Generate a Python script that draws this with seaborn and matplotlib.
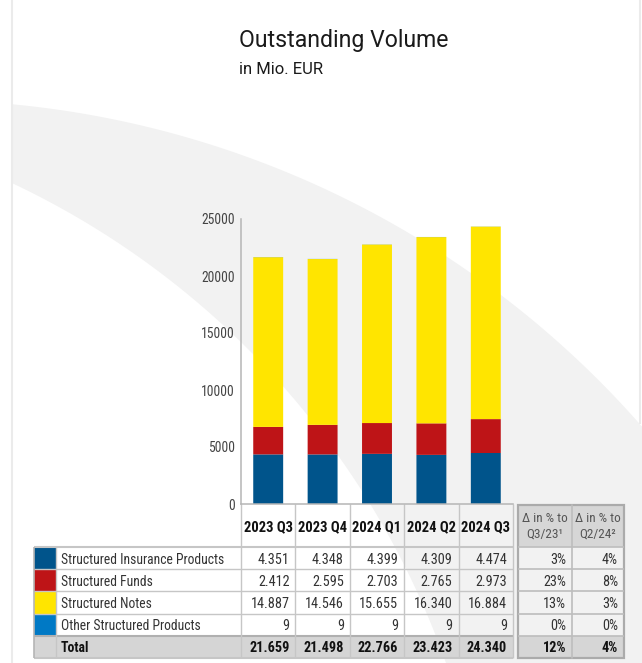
import numpy as np
import pandas as pd
import matplotlib
matplotlib.use("Agg")
import matplotlib.pyplot as plt
from matplotlib import font_manager as fm
from matplotlib.patches import Polygon, Rectangle
import seaborn as sns

# ---------------- data ----------------
quarters = ["2023 Q3", "2023 Q4", "2024 Q1", "2024 Q2", "2024 Q3"]
categories = ["Structured Insurance Products", "Structured Funds",
              "Structured Notes", "Other Structured Products"]
insurance = [4351, 4348, 4399, 4309, 4474]
funds = [2412, 2595, 2703, 2765, 2973]
notes = [14887, 14546, 15655, 16340, 16884]
other = [9, 9, 9, 9, 9]
totals = [21659, 21498, 22766, 23423, 24340]
delta_q3_23 = [3, 23, 13, 0, 12]
delta_q2_24 = [4, 8, 3, 0, 4]
delta_headers = ["\u0394 in % to\nQ3/23\u00b9", "\u0394 in % to\nQ2/24\u00b2"]
y_ticks = [0, 5000, 10000, 15000, 20000, 25000]
colors = ["#00548b", "#be1417", "#ffe500", "#0079c5"]

title = "Outstanding Volume"
subtitle = "in Mio. EUR"

# ---------------- style ----------------
sns.set_theme(style="white")
names = {f.name for f in fm.fontManager.ttflist}
COND = next((n for n in ["Roboto Condensed", "Liberation Sans Narrow", "Arial Narrow"]
             if n in names), None)
if COND is None:
    COND_FAM = ["Roboto", "DejaVu Sans"]
    k = 0.84
else:
    COND_FAM = [COND, "DejaVu Sans"]
    k = 1.0
plt.rcParams["font.family"] = COND_FAM

W, H, DPI = 642, 663, 100
fig = plt.figure(figsize=(W / DPI, H / DPI), dpi=DPI)
fig.patch.set_facecolor("white")

# background / table layer in pixel coordinates
bg = fig.add_axes([0, 0, 1, 1], zorder=0)
bg.set_xlim(0, W)
bg.set_ylim(H, 0)
bg.axis("off")

# decorative swoosh band
def upper(x):
    return 1057 - np.sqrt(957 ** 2 - (x + 78) ** 2)

def lower_x(y):
    return -346 + np.sqrt(840 ** 2 - (943 - y) ** 2)

xs_up = np.linspace(12, W, 200)
ys_up = upper(xs_up)
ys_lo = np.linspace(H, 943 - np.sqrt(840 ** 2 - (12 + 346) ** 2), 200)
xs_lo = lower_x(ys_lo)
poly = np.vstack([np.column_stack([xs_up, ys_up]),
                  [[W, H]],
                  np.column_stack([xs_lo, ys_lo])])
bg.add_patch(Polygon(poly, closed=True, facecolor="#f2f2f2", edgecolor="none"))
bg.plot([12, 12], [0, H], color="#ebebeb", lw=1.5, solid_capstyle="butt")
bg.plot([640, 640], [0, upper(640)], color="#ebebeb", lw=1.5, solid_capstyle="butt")

# title
bg.text(239, 47, title, fontsize=16.6, family=["Roboto", "DejaVu Sans"],
        color="#1a1a1a", va="baseline", ha="left")
bg.text(239, 74, subtitle, fontsize=12, family=["Roboto", "DejaVu Sans"],
        color="#1a1a1a", va="baseline", ha="left")

# ---------------- bar chart ----------------
AX_L, AX_R, AX_T, AX_B = 241, 513, 219, 504
ax = fig.add_axes([AX_L / W, 1 - AX_B / H, (AX_R - AX_L) / W, (AX_B - AX_T) / H],
                  zorder=2)
ax.patch.set_alpha(0)

long = pd.DataFrame({
    "quarter": quarters * len(categories),
    "category": np.repeat(categories, len(quarters)),
    "value": insurance + funds + notes + other,
})
sns.histplot(data=long, x="quarter", weights="value", hue="category",
             hue_order=categories[::-1], multiple="stack", discrete=True,
             shrink=0.55, palette=dict(zip(categories, colors)), alpha=1,
             linewidth=0, snap=False, legend=False, ax=ax)

ax.set_xlim(-0.5, 4.5)
ax.set_ylim(0, 25000)
ax.set_yticks(y_ticks)
ax.set_yticklabels([str(v) for v in y_ticks])
ax.set_xlabel("")
ax.set_ylabel("")
ax.set_xticks(range(len(quarters)))
ax.set_xticklabels(quarters, fontweight="bold", fontsize=10.5 * k, color="#111111")
ax.set_xticks([i - 0.5 for i in range(len(quarters) + 1)], minor=True)
ax.tick_params(axis="x", which="major", length=0, pad=11.5)
ax.tick_params(axis="x", which="minor", direction="in", length=5, width=1.0,
               color="#bdbdbd")
ax.tick_params(axis="y", direction="in", length=4.5, width=1.0, color="#b0b0b0",
               labelsize=9.8 * k, labelcolor="#444444", pad=4.3)
for s in ["top", "right"]:
    ax.spines[s].set_visible(False)
for s in ["left", "bottom"]:
    ax.spines[s].set_color("#b5b5b5")
    ax.spines[s].set_linewidth(1.1)

# ---------------- table ----------------
step = (AX_R - AX_L) / len(quarters)
col_x = [AX_L + i * step for i in range(len(quarters) + 1)]
row_y = [547 + i * 22.2 for i in range(6)]
SW_L, SW_R = 34, 56
line_c = "#c6c6c6"
tfs = 9.8 * k
tcol = "#333333"

# total row fill
bg.add_patch(Rectangle((SW_L, row_y[4]), AX_R - SW_L, row_y[5] - row_y[4],
                       facecolor="#d5d5d5", edgecolor="none"))
# swatches
for i, c in enumerate(colors):
    bg.add_patch(Rectangle((SW_L, row_y[i]), SW_R - SW_L, row_y[i + 1] - row_y[i],
                           facecolor=c, edgecolor="none"))
# horizontal lines
for j, y in enumerate(row_y):
    lw = 1.5 if j in (0, 4, 5) else 1.0
    bg.plot([SW_L, AX_R], [y, y], color=line_c if j not in (4,) else "#b0b0b0",
            lw=lw, solid_capstyle="butt")
# vertical lines
for x in [SW_L, SW_R]:
    bg.plot([x, x], [row_y[0], row_y[-1]], color=line_c if x != SW_L else "#b5b5b5",
            lw=1.2 if x == SW_L else 1.0, solid_capstyle="butt")
for j, x in enumerate(col_x):
    bg.plot([x, x], [AX_B, row_y[-1]], color=line_c, lw=1.0, solid_capstyle="butt")


def fmt(v):
    return f"{v:,}".replace(",", ".")


series = [insurance, funds, notes, other]
for i, name in enumerate(categories):
    yc = (row_y[i] + row_y[i + 1]) / 2
    bg.text(SW_R + 5, yc, name, fontsize=tfs, color=tcol, va="center_baseline", ha="left")
    for q in range(len(quarters)):
        bg.text(col_x[q + 1] - 6, yc, fmt(series[i][q]), fontsize=10.3 * k, color=tcol,
                va="center_baseline", ha="right")
yc = (row_y[4] + row_y[5]) / 2
bg.text(SW_R + 5, yc, "Total", fontsize=tfs, color="#111111", fontweight="bold",
        va="center_baseline", ha="left")
for q in range(len(quarters)):
    bg.text(col_x[q + 1] - 6, yc, fmt(totals[q]), fontsize=10.3 * k, color="#111111",
            fontweight="bold", va="center_baseline", ha="right")

# delta table
DX = [518, 572, 624]
D_TOP = 505
bg.add_patch(Rectangle((DX[0], D_TOP), DX[2] - DX[0], row_y[0] - D_TOP,
                       facecolor="#d6d6d6", edgecolor="none"))
bg.add_patch(Rectangle((DX[0], row_y[4]), DX[2] - DX[0], row_y[5] - row_y[4],
                       facecolor="#d6d6d6", edgecolor="none"))
for y in row_y[:-1]:
    bg.plot([DX[0], DX[2]], [y, y], color="#bdbdbd", lw=1.2, solid_capstyle="butt")
bg.plot([DX[1], DX[1]], [D_TOP, row_y[-1]], color="#bdbdbd", lw=1.2)
bg.add_patch(Rectangle((DX[0], D_TOP), DX[2] - DX[0], row_y[-1] - D_TOP,
                       facecolor="none", edgecolor="#ababab", lw=1.6))
for d, hdr in enumerate(delta_headers):
    bg.text((DX[d] + DX[d + 1]) / 2, (D_TOP + row_y[0]) / 2, hdr, fontsize=9.5 * k,
            color="#555555", ha="center", va="center", linespacing=1.25)
for d, vals in enumerate([delta_q3_23, delta_q2_24]):
    for i, v in enumerate(vals):
        yc = (row_y[i] + row_y[i + 1]) / 2
        bold = i == 4
        bg.text(DX[d + 1] - 6, yc, f"{v}%", fontsize=10.3 * k,
                color="#111111" if bold else tcol,
                fontweight="bold" if bold else "normal",
                va="center_baseline", ha="right")

fig.savefig("out.png", dpi=DPI, facecolor="white")
